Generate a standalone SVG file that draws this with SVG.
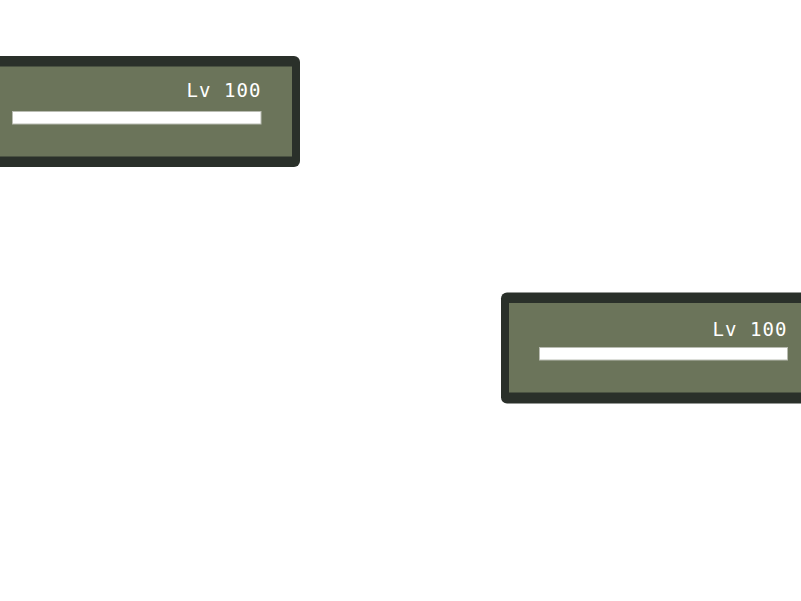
<svg xmlns="http://www.w3.org/2000/svg" width="801" height="601" viewBox="0 0 801 601">
<style>
.frame{fill:#2a302a}
.inner{fill:#6b745a}
.bar{fill:#ffffff;stroke:#b9bcb2;stroke-width:1}
.lv{font-family:"DejaVu Sans Mono","Liberation Mono",monospace;font-size:19px;fill:#ffffff}
</style>
<rect width="801" height="601" fill="#ffffff"/>
<g id="panel-top">
<rect class="frame" x="-26" y="56" width="326" height="111" rx="6"/>
<rect class="inner" x="-18" y="66.5" width="310" height="90"/>
<text class="lv" x="186.5" y="97" textLength="74" lengthAdjust="spacing">Lv 100</text>
<rect class="bar" x="12.5" y="111.5" width="248.5" height="12.5"/>
</g>
<g id="panel-bottom">
<rect class="frame" x="501" y="292.5" width="326" height="111" rx="6"/>
<rect class="inner" x="509" y="303" width="310" height="89.5"/>
<text class="lv" x="712.5" y="336" textLength="74" lengthAdjust="spacing">Lv 100</text>
<rect class="bar" x="539.5" y="347.5" width="248" height="12.5"/>
</g>
<g id="connectors"/>
</svg>
